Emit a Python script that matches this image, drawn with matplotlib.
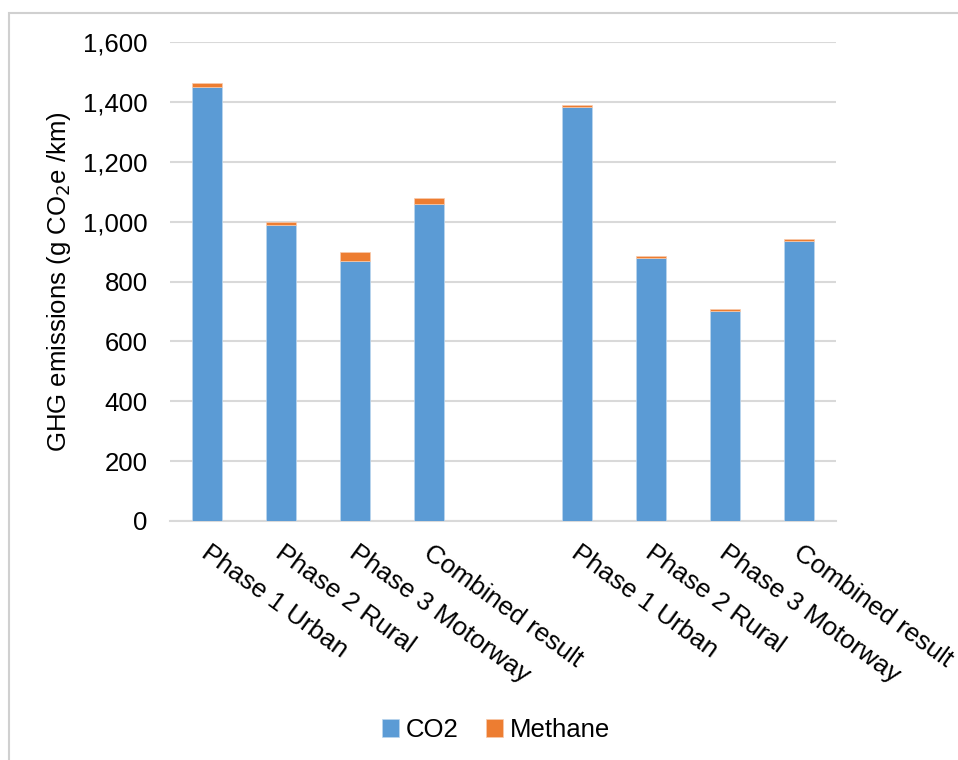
import matplotlib.pyplot as plt
import numpy as np
from matplotlib.patches import Rectangle
from matplotlib.ticker import FuncFormatter

plt.rcParams["font.family"] = ["Liberation Sans", "DejaVu Sans"]

# two test groups, blank slot between them
categories = [
    "Phase 1 Urban", "Phase 2 Rural", "Phase 3 Motorway", "Combined result",
    "",
    "Phase 1 Urban", "Phase 2 Rural", "Phase 3 Motorway", "Combined result",
]
co2 = [1449, 990, 869, 1060, 0, 1383, 877, 702, 935]
methane = [13, 10, 28, 19, 0, 7, 8, 6, 6]

blue = "#5B9BD5"
orange = "#ED7D31"
grid_col = "#D9D9D9"
fs = 18.5

fig = plt.figure(figsize=(9.58, 7.6), dpi=100)
ax = fig.add_axes([170 / 958, 1 - 521 / 760, 666 / 958, 479 / 760])

# light frame around the chart area
fig.patches.append(Rectangle((8.5 / 958, -0.1), 1.1, 1.1 - 13.5 / 760,
                             transform=fig.transFigure, fill=False,
                             edgecolor="#D0D0D0", linewidth=1.5))

x = np.arange(len(categories))
ax.bar(x, co2, width=0.4, color=blue, edgecolor="#BDD7EE", linewidth=0.5,
       label="CO2", zorder=3)
ax.bar(x, methane, width=0.4, bottom=co2, color=orange, edgecolor="#F8CBAD",
       linewidth=0.5, label="Methane", zorder=3)

ax.set_xlim(-0.5, len(categories) - 0.5)
ax.set_ylim(0, 1600)
ax.set_yticks(np.arange(0, 1601, 200))
ax.yaxis.set_major_formatter(FuncFormatter(lambda v, p: f"{int(v):,}"))
ax.grid(axis="y", color=grid_col, linewidth=1.5, zorder=0)
ax.set_axisbelow(True)
for s in ["top", "right", "left"]:
    ax.spines[s].set_visible(False)
ax.spines["bottom"].set_color(grid_col)
ax.spines["bottom"].set_linewidth(1.5)
ax.tick_params(axis="y", length=0, pad=16, labelsize=fs, colors="#000000")
ax.tick_params(axis="x", length=0)
ax.set_xticks([])

# rotated category labels starting just under each bar
for xi, lab in zip(x, categories):
    if not lab:
        continue
    ax.annotate(lab, (xi, 0), xycoords=("data", "axes fraction"),
                xytext=(3, -14), textcoords="offset points",
                rotation=-36, rotation_mode="anchor", ha="left", va="top",
                fontsize=18.8)

ax.set_ylabel("GHG emissions (g CO$_2$e /km)", fontsize=fs, labelpad=7)

ax.legend(loc="center", bbox_to_anchor=(496 / 958, 30 / 760),
          bbox_transform=fig.transFigure, ncol=2, frameon=False, fontsize=fs,
          handlelength=0.65, handleheight=0.65, handletextpad=0.25,
          columnspacing=1.1)

fig.savefig("out.png", dpi=100)
